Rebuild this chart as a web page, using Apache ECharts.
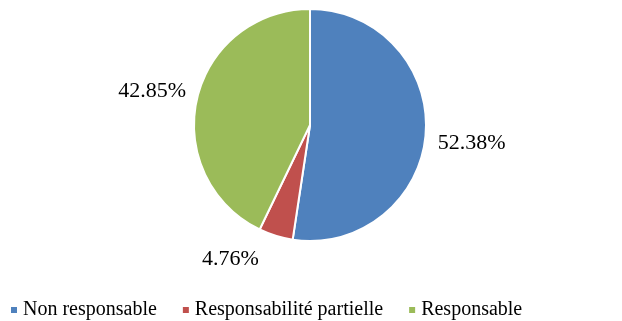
<!DOCTYPE html>
<html>
<head>
<meta charset="utf-8">
<script src="https://cdn.jsdelivr.net/npm/echarts@6/dist/echarts.min.js"></script>
<style>
  html, body { margin: 0; padding: 0; background: #fff; }
  #chart { width: 622px; height: 321px; }
</style>
</head>
<body>
<div id="chart"></div>
<script>
// Share of each responsibility category (percent)
const categories = ['Non responsable', 'Responsabilité partielle', 'Responsable'];
const values = [52.38, 4.76, 42.85];
const colors = ['#4F81BD', '#C0504D', '#9BBB59'];

const serif = '"Liberation Serif", "Times New Roman", serif';

// small nudges for the percentage labels, per slice
const labelNudge = [[-3, 9], [-9, 14], [4, -6]];

const chart = echarts.init(document.getElementById('chart'), null, { renderer: 'canvas' });

chart.setOption({
  animation: false,
  color: colors,
  legend: {
    data: categories,
    left: 4,
    bottom: -4,
    itemWidth: 8,
    itemHeight: 8,
    itemGap: 24,
    icon: 'rect',
    textStyle: { fontFamily: serif, fontSize: 20, color: '#000' }
  },
  series: [{
    type: 'pie',
    center: [310, 125],
    radius: 116,
    startAngle: 90,
    clockwise: true,
    itemStyle: { borderColor: '#fff', borderWidth: 2 },
    label: {
      show: true,
      position: 'outside',
      fontFamily: serif,
      fontSize: 22,
      color: '#000',
      formatter: p => p.value.toFixed(2) + '%'
    },
    labelLine: { show: false, length: 10, length2: 0 },
    labelLayout: p => ({ dx: labelNudge[p.dataIndex][0], dy: labelNudge[p.dataIndex][1] }),
    emphasis: { disabled: true },
    data: categories.map((name, i) => ({ name, value: values[i] }))
  }]
});
</script>
</body>
</html>
